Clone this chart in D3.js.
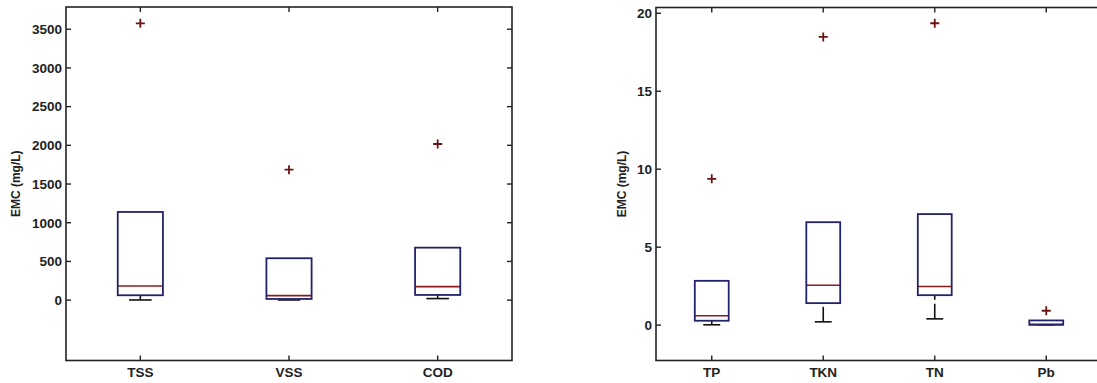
<!DOCTYPE html>
<html>
<head>
<meta charset="utf-8">
<script src="https://cdn.jsdelivr.net/npm/d3@7"></script>
<style>
  html, body { margin: 0; padding: 0; background: #fff; }
  svg { display: block; }
  text { font-family: "Liberation Sans", Arial, sans-serif; font-weight: bold; fill: #222; }
</style>
</head>
<body>
<svg id="chart" width="1097" height="383"></svg>
<script>
// Event mean concentrations (mg/L): box statistics per pollutant
const leftCategories = ["TSS", "VSS", "COD"];
const leftQ1       = [63, 15, 67];
const leftMedian   = [183, 58, 174];
const leftQ3       = [1139, 541, 678];
const leftLowWhisk = [2, 2, 20];
const leftHighWhisk= [1139, 541, 678];
const leftOutliers = [[3576], [1685], [2017]];
const leftTicks    = [0, 500, 1000, 1500, 2000, 2500, 3000, 3500];
const leftDomain   = [-780, 3787];

const rightCategories = ["TP", "TKN", "TN", "Pb"];
const rightQ1       = [0.28, 1.41, 1.92, 0.02];
const rightMedian   = [0.6, 2.56, 2.48, 0.05];
const rightQ3       = [2.84, 6.6, 7.12, 0.3];
const rightLowWhisk = [0.02, 0.21, 0.4, 0.02];
const rightHighWhisk= [2.84, 6.6, 7.12, 0.3];
const rightOutliers = [[9.38], [18.48], [19.36], [0.92]];
const rightTicks    = [0, 5, 10, 15, 20];
const rightDomain   = [-2.27, 20.37];

const svg = d3.select("#chart");
const AXIS = "#222";
const BOX = "#23236b";
const MED = "#8b1c1c";
const OUT = "#6b1414";

function panel(opts) {
  const { x0, x1, y0, y1, cats, q1, med, q3, lo, hi, outs, ticks, domain, labelX } = opts;
  const g = svg.append("g");
  const x = d3.scaleBand().domain(cats).range([x0, x1]).paddingInner(0).paddingOuter(0);
  const y = d3.scaleLinear().domain(domain).range([y1, y0]);
  const cx = c => x(c) + x.bandwidth() / 2;
  const halfBox = x.bandwidth() * 0.152;
  const halfCap = halfBox / 2;

  // frame
  g.append("rect").attr("x", x0).attr("y", y0).attr("width", x1 - x0).attr("height", y1 - y0)
    .attr("fill", "none").attr("stroke", AXIS).attr("stroke-width", 1.6);

  // y ticks (inward, both sides) and labels
  const tl = 5;
  ticks.forEach(t => {
    const yy = y(t);
    g.append("line").attr("x1", x0).attr("x2", x0 + tl).attr("y1", yy).attr("y2", yy)
      .attr("stroke", AXIS).attr("stroke-width", 1.4);
    g.append("line").attr("x1", x1).attr("x2", x1 - tl).attr("y1", yy).attr("y2", yy)
      .attr("stroke", AXIS).attr("stroke-width", 1.4);
    g.append("text").attr("x", x0 - 4).attr("y", yy).attr("dy", "0.36em")
      .attr("text-anchor", "end").attr("font-size", 13.5).text(t);
  });

  // x ticks (inward, top and bottom) and labels
  cats.forEach(c => {
    const xx = cx(c);
    g.append("line").attr("x1", xx).attr("x2", xx).attr("y1", y1).attr("y2", y1 - tl)
      .attr("stroke", AXIS).attr("stroke-width", 1.4);
    g.append("line").attr("x1", xx).attr("x2", xx).attr("y1", y0).attr("y2", y0 + tl)
      .attr("stroke", AXIS).attr("stroke-width", 1.4);
    g.append("text").attr("x", xx).attr("y", 377).attr("text-anchor", "middle")
      .attr("font-size", 13.5).text(c);
  });

  // y axis title
  g.append("text").attr("transform", `translate(${labelX},${(y0 + y1) / 2}) rotate(-90)`)
    .attr("text-anchor", "middle").attr("dy", "0.36em").attr("font-size", 12).text("EMC (mg/L)");

  cats.forEach((c, i) => {
    const xx = cx(c);
    // lower whisker (dashed) and cap
    g.append("line").attr("x1", xx).attr("x2", xx).attr("y1", y(lo[i])).attr("y2", y(q1[i]))
      .attr("stroke", "#111").attr("stroke-width", 1.6).attr("stroke-dasharray", "15,4");
    g.append("line").attr("x1", xx - halfCap).attr("x2", xx + halfCap)
      .attr("y1", y(lo[i])).attr("y2", y(lo[i])).attr("stroke", "#111").attr("stroke-width", 1.6);
    // upper whisker (collapses onto the box when it coincides with Q3)
    if (hi[i] > q3[i]) {
      g.append("line").attr("x1", xx).attr("x2", xx).attr("y1", y(hi[i])).attr("y2", y(q3[i]))
        .attr("stroke", "#111").attr("stroke-width", 1.6).attr("stroke-dasharray", "15,4");
      g.append("line").attr("x1", xx - halfCap).attr("x2", xx + halfCap)
        .attr("y1", y(hi[i])).attr("y2", y(hi[i])).attr("stroke", "#111").attr("stroke-width", 1.6);
    }
    // median
    g.append("line").attr("x1", xx - halfBox).attr("x2", xx + halfBox)
      .attr("y1", y(med[i])).attr("y2", y(med[i])).attr("stroke", MED).attr("stroke-width", 1.6);
    // box
    g.append("rect").attr("x", xx - halfBox).attr("y", y(q3[i]))
      .attr("width", 2 * halfBox).attr("height", y(q1[i]) - y(q3[i]))
      .attr("fill", "none").attr("stroke", BOX).attr("stroke-width", 1.8);
    // outliers
    outs[i].forEach(v => {
      const yy = y(v), s = 4.5;
      g.append("path").attr("d", `M${xx - s},${yy}H${xx + s}M${xx},${yy - s}V${yy + s}`)
        .attr("stroke", OUT).attr("stroke-width", 1.8).attr("fill", "none");
    });
  });
}

panel({ x0: 66, x1: 512, y0: 7, y1: 360.5,
  cats: leftCategories, q1: leftQ1, med: leftMedian, q3: leftQ3,
  lo: leftLowWhisk, hi: leftHighWhisk, outs: leftOutliers,
  ticks: leftTicks, domain: leftDomain, labelX: 16 });

panel({ x0: 656, x1: 1102, y0: 7.5, y1: 360.5,
  cats: rightCategories, q1: rightQ1, med: rightMedian, q3: rightQ3,
  lo: rightLowWhisk, hi: rightHighWhisk, outs: rightOutliers,
  ticks: rightTicks, domain: rightDomain, labelX: 622 });
</script>
</body>
</html>
